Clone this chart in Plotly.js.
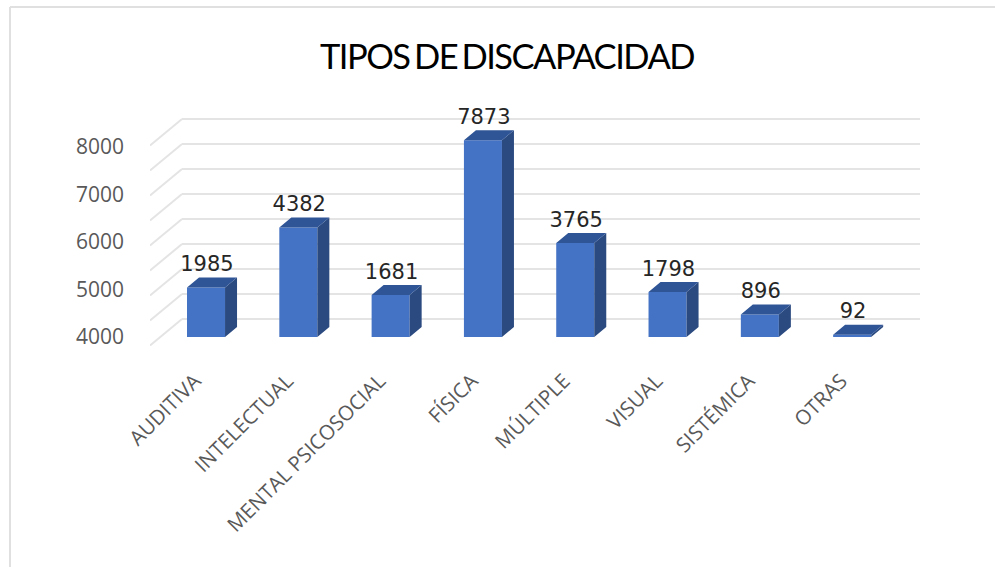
<!DOCTYPE html>
<html>
<head>
<meta charset="utf-8">
<script src="https://cdn.plot.ly/plotly-3.0.1.min.js"></script>
<style>html,body{margin:0;padding:0;background:#fff;overflow:hidden}#chart{width:995px;height:567px}
.gtitle{letter-spacing:-1.5px;word-spacing:-3px}</style>
</head>
<body>
<div id="chart"></div>
<script>
const categories = ["AUDITIVA","INTELECTUAL","MENTAL PSICOSOCIAL","FÍSICA","MÚLTIPLE","VISUAL","SISTÉMICA","OTRAS"];
const values = [1985,4382,1681,7873,3765,1798,896,92];
const gridValues = [0,1000,2000,3000,4000,5000,6000,7000,8000];
const axisLabels = [4000,5000,6000,7000,8000];

const W = 995, H = 567;
const m = {l:150, r:75, t:105, b:221};
const xRange = [-0.607, 7.735];
const yRange = [-360, 9280];
const yLabelRange = [3810, 8884];
const barW = 0.412, depthX = 0.13, depthY = 400;
const wallLeft = -0.26, wallFront = -0.607, wallBack = 720, wallDrop = -340;
const labelShift = -0.12;

const idx = categories.map((_, i) => i);
const sideX = [], sideY = [], topX = [], topY = [];
values.forEach((v, i) => {
  const a = i - barW/2, b = i + barW/2;
  sideX.push(b, b + depthX, b + depthX, b, b, null);
  sideY.push(0, depthY, v + depthY, v, 0, null);
  topX.push(a, b, b + depthX, a + depthX, a, null);
  topY.push(v, v, v + depthY, v + depthY, v, null);
});

const gridLine = {color:"#e4e4e4", width:2};
const shapes = [];
gridValues.forEach(g => {
  shapes.push({type:"line", layer:"below", xref:"x", yref:"y", x0:wallFront, x1:wallLeft, y0:g+wallDrop, y1:g+wallBack, line:gridLine});
  shapes.push({type:"line", layer:"below", xref:"x", yref:"y", x0:wallLeft, x1:xRange[1], y0:g+wallBack, y1:g+wallBack, line:gridLine});
});
const frame = {color:"#e0e0e0", width:2};
const px = x => (x - m.l) / (W - m.l - m.r);
const py = y => 1 - (y - m.t) / (H - m.t - m.b);
shapes.push({type:"line", xref:"paper", yref:"paper", x0:px(10), x1:px(995), y0:py(7), y1:py(7), line:frame});
shapes.push({type:"line", xref:"paper", yref:"paper", x0:px(10), x1:px(10), y0:py(7), y1:py(567), line:frame});

const traces = [
  {type:"bar", x:idx, y:values, width:barW, marker:{color:"#4472c4"}, hoverinfo:"skip"},
  {type:"scatter", mode:"lines", x:sideX, y:sideY, fill:"toself", fillcolor:"#2b4a80", line:{width:0}, hoverinfo:"skip"},
  {type:"scatter", mode:"lines", x:topX, y:topY, fill:"toself", fillcolor:"#2f5597", line:{width:0}, hoverinfo:"skip"},
  {type:"scatter", mode:"text", x:idx.map(i => i + 0.01), y:values.map(v => v + depthY + 40), text:values.map(String),
   textposition:"top center", cliponaxis:false, textfont:{family:"DejaVu Sans", size:21, color:"#262626"}, hoverinfo:"skip"},
  {type:"scatter", mode:"none", x:[0], y:[axisLabels[0]], yaxis:"y2", hoverinfo:"skip"}
];

const layout = {
  width:W, height:H, margin:m, showlegend:false, autosize:false,
  paper_bgcolor:"#fff", plot_bgcolor:"rgba(0,0,0,0)",
  title:{text:"TIPOS DE DISCAPACIDAD", x:507/W, xanchor:"center", y:1-57/H, yanchor:"middle",
         font:{family:"Lato", size:34.5, color:"#000"}},
  xaxis:{range:xRange, tickmode:"array", tickvals:idx.map(i => i + labelShift), ticktext:categories, tickangle:-45, showgrid:false, zeroline:false,
         showline:false, ticks:"", ticklabelstandoff:18, tickfont:{family:"Open Sans", size:20.5, color:"#595959"}},
  yaxis:{range:yRange, showgrid:false, zeroline:false, showline:false, showticklabels:false, ticks:""},
  yaxis2:{overlaying:"y", side:"left", range:yLabelRange, tickmode:"array", tickvals:axisLabels, showgrid:false, zeroline:false,
          showline:false, ticks:"", ticklabelstandoff:25, tickfont:{family:"Open Sans", size:21, color:"#595959"}},
  shapes:shapes
};
Plotly.newPlot("chart", traces, layout, {staticPlot:true, displayModeBar:false});
</script>
</body>
</html>
